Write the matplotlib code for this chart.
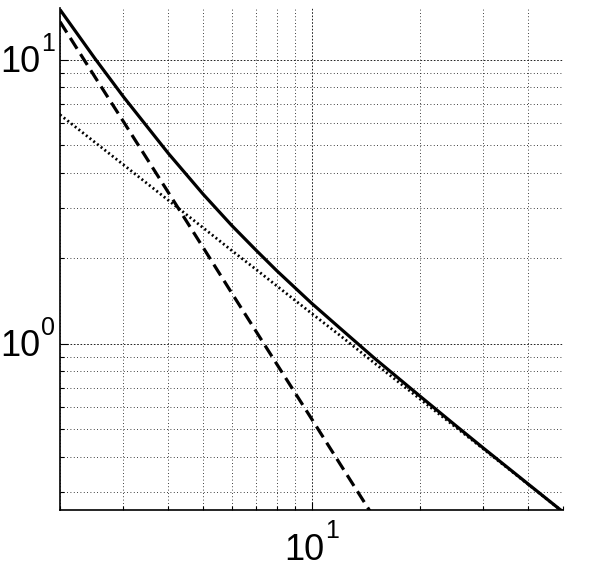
import matplotlib
matplotlib.use('Agg')
import matplotlib.pyplot as plt
from matplotlib import font_manager
from matplotlib.ticker import LogLocator, FixedLocator, NullFormatter
from matplotlib.transforms import offset_copy

plt.rcParams['font.family'] = ['Liberation Sans', 'DejaVu Sans']
names = {f.name for f in font_manager.fontManager.ttflist}
narrow = 'Liberation Sans Narrow' in names
lab_family = 'Liberation Sans Narrow' if narrow else 'Liberation Sans'
big, small = (29, 20) if narrow else (26, 18)

# values (log-log)
x = [2, 2.5, 3, 4, 5, 6, 7, 8, 10, 12, 15, 20, 25, 30, 40, 50]
total = [15.0, 10.1, 7.41, 4.68, 3.36, 2.61, 2.14, 1.81, 1.39, 1.135, 0.887,
         0.655, 0.519, 0.43, 0.321, 0.256]
x_steep = [2, 2.5, 3, 4, 5, 6, 7, 8, 10, 12, 15]
steep = [13.6, 8.7, 6.06, 3.41, 2.18, 1.51, 1.11, 0.85, 0.545, 0.378, 0.242]
shallow = [6.4, 5.12, 4.27, 3.2, 2.56, 2.13, 1.83, 1.6, 1.28, 1.07, 0.853,
           0.64, 0.512, 0.427, 0.32, 0.256]
xticks = [10]
xtick_exp = ['1']
yticks = [1, 10]
ytick_exp = ['0', '1']

fig = plt.figure(figsize=(5.94, 5.67), dpi=100)
ax = fig.add_axes([60/594, 1 - 510/567, 503/594, 502/567])

ax.plot(x, total, color='black', lw=2.3, solid_capstyle='butt')
ax.plot(x_steep, steep, color='black', lw=2.3, linestyle=(0, (4, 2)))
ax.plot(x, shallow, color='black', lw=2.0, linestyle=(0, (0.7, 1.0)))

ax.set_xscale('log')
ax.set_yscale('log')
ax.set_xlim(2, 50)
ax.set_ylim(0.26, 15.2)

ax.xaxis.set_major_locator(FixedLocator(xticks))
ax.xaxis.set_minor_locator(LogLocator(base=10, subs=range(2, 10), numticks=20))
ax.yaxis.set_major_locator(FixedLocator(yticks))
ax.yaxis.set_minor_locator(LogLocator(base=10, subs=range(2, 10), numticks=20))
for a in (ax.xaxis, ax.yaxis):
    a.set_major_formatter(NullFormatter())
    a.set_minor_formatter(NullFormatter())

ax.tick_params(which='both', direction='in', width=0.8, colors='black')
ax.tick_params(which='major', length=6)
ax.tick_params(which='minor', length=3)

# tick labels drawn as "10" plus raised exponent, like the original
ytr = ax.get_yaxis_transform()
for v, e in zip(yticks, ytick_exp):
    ax.text(0, v, '10', fontsize=big, family=lab_family, ha='right', va='baseline',
            clip_on=False,
            transform=offset_copy(ytr, fig=fig, x=-20, y=-12, units='dots'))
    ax.text(0, v, e, fontsize=small, family=lab_family, ha='left', va='baseline',
            clip_on=False,
            transform=offset_copy(ytr, fig=fig, x=-19, y=9, units='dots'))
xtr = ax.get_xaxis_transform()
for v, e in zip(xticks, xtick_exp):
    ax.text(v, 0, '10', fontsize=big, family=lab_family, ha='right', va='baseline',
            clip_on=False,
            transform=offset_copy(xtr, fig=fig, x=13, y=-50, units='dots'))
    ax.text(v, 0, e, fontsize=small, family=lab_family, ha='left', va='baseline',
            clip_on=False,
            transform=offset_copy(xtr, fig=fig, x=14, y=-28, units='dots'))

ax.grid(which='major', color='black', linestyle=(0, (2, 2)), lw=0.6)
ax.grid(which='minor', color='black', linestyle=(0, (1, 3)), lw=0.6)

for s in ['top', 'right']:
    ax.spines[s].set_visible(False)
for s in ['left', 'bottom']:
    ax.spines[s].set_linewidth(1.2)

fig.savefig('out.png', dpi=100)
